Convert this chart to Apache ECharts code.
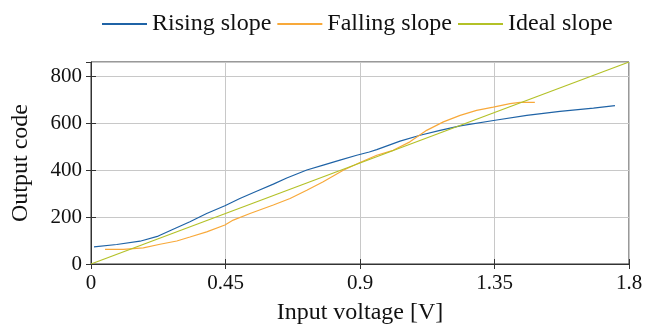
<!DOCTYPE html>
<html>
<head>
<meta charset="utf-8">
<script src="https://cdn.jsdelivr.net/npm/echarts@6/dist/echarts.min.js"></script>
<style>
    html, body { margin: 0; padding: 0; background: #fff; }
    #chart { width: 645px; height: 326px; }
</style>
</head>
<body>
<div id="chart"></div>
<script>
    // values: [voltage, code]
    let risingSlope = [
        [0.01, 73], [0.086, 83], [0.164, 97], [0.225, 119], [0.275, 148], [0.331, 180],
        [0.387, 215], [0.448, 248], [0.498, 279], [0.554, 310], [0.61, 340], [0.655, 366],
        [0.722, 400], [0.777, 421], [0.833, 442], [0.889, 463], [0.931, 477], [0.956, 487],
        [1.034, 523], [1.101, 548], [1.168, 569], [1.235, 588], [1.352, 612], [1.458, 633],
        [1.569, 650], [1.681, 664], [1.753, 674]
    ];
    let fallingSlope = [
        [0.047, 62], [0.108, 62], [0.175, 69], [0.231, 84], [0.287, 98], [0.331, 115],
        [0.387, 137], [0.448, 166], [0.476, 187], [0.532, 215], [0.61, 251], [0.666, 279],
        [0.722, 314], [0.777, 350], [0.844, 399], [0.9, 432], [0.956, 463], [1.011, 484],
        [1.067, 520], [1.123, 569], [1.179, 605], [1.235, 633], [1.29, 654], [1.346, 668],
        [1.402, 683], [1.435, 688], [1.485, 688]
    ];
    let idealSlope = [[0, 0], [1.8, 860]];
    let seriesNames = ['Rising slope', 'Falling slope', 'Ideal slope'];
    let colorList = ['#1f63a6', '#f8a93a', '#b3c127'];

    let font = '"Liberation Serif", "DejaVu Serif", serif';
    let chart = echarts.init(document.getElementById('chart'));

    function lineSeries(name, data, color) {
        return {
            name: name,
            type: 'line',
            data: data,
            showSymbol: false,
            symbol: 'none',
            animation: false,
            lineStyle: { color: color, width: 1.2 },
            itemStyle: { color: color }
        };
    }

    let tickStyle = { inside: true, length: 5, lineStyle: { color: '#333' } };
    let option = {
        color: colorList,
        animation: false,
        legend: {
            left: 102,
            top: 12,
            padding: 0,
            itemWidth: 45,
            itemHeight: 2,
            itemGap: 6,
            icon: 'rect',
            textStyle: { fontFamily: font, fontSize: 24, color: '#111' },
            data: seriesNames
        },
        grid: {
            left: 91,
            right: 16,
            top: 62,
            bottom: 62,
            outerBoundsMode: 'none',
            show: true,
            borderColor: '#333',
            borderWidth: 1
        },
        xAxis: [
            {
                type: 'value',
                min: 0,
                max: 1.8,
                interval: 0.45,
                name: 'Input voltage [V]',
                nameLocation: 'middle',
                nameGap: 37,
                nameTextStyle: { fontFamily: font, fontSize: 24, color: '#111' },
                axisLine: { show: true, lineStyle: { color: '#333' } },
                axisTick: tickStyle,
                axisLabel: { fontFamily: font, fontSize: 21, color: '#111', margin: 9 },
                splitLine: { show: true, lineStyle: { color: '#c8c8c8' } }
            },
            {
                type: 'value',
                position: 'top',
                min: 0,
                max: 1.8,
                interval: 0.45,
                axisLine: { show: false },
                axisTick: tickStyle,
                axisLabel: { show: false },
                splitLine: { show: false }
            }
        ],
        yAxis: [
            {
                type: 'value',
                min: 0,
                max: 860,
                interval: 200,
                name: 'Output code',
                nameLocation: 'middle',
                nameGap: 58,
                nameTextStyle: { fontFamily: font, fontSize: 24, color: '#111' },
                axisLine: { show: true, lineStyle: { color: '#333' } },
                axisTick: tickStyle,
                axisLabel: { fontFamily: font, fontSize: 21, color: '#111', margin: 9, showMaxLabel: false },
                splitLine: { show: true, lineStyle: { color: '#c8c8c8' } }
            },
            {
                type: 'value',
                position: 'right',
                min: 0,
                max: 860,
                interval: 200,
                axisLine: { show: false },
                axisTick: tickStyle,
                axisLabel: { show: false },
                splitLine: { show: false }
            }
        ],
        series: [
            lineSeries(seriesNames[0], risingSlope, colorList[0]),
            lineSeries(seriesNames[1], fallingSlope, colorList[1]),
            lineSeries(seriesNames[2], idealSlope, colorList[2])
        ]
    };
    chart.setOption(option);
</script>
</body>
</html>
